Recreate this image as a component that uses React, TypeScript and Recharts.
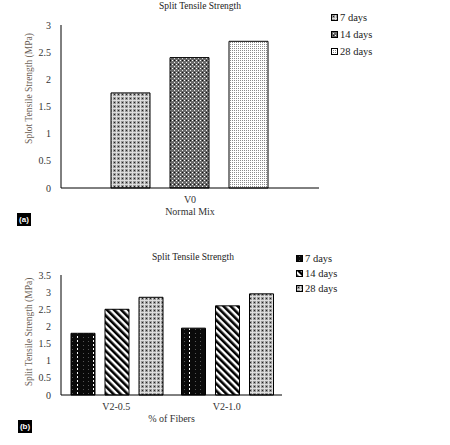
import React from "react"
import { Bar, BarChart, XAxis, YAxis, Label } from "recharts"

// (a) normal mix
const mixA = ["V0"]
const a7 = [1.75]
const a14 = [2.4]
const a28 = [2.7]
const ticksA = [0, 0.5, 1, 1.5, 2, 2.5, 3]

// (b) fibre mixes
const mixB = ["V2-0.5", "V2-1.0"]
const b7 = [1.8, 1.95]
const b14 = [2.5, 2.6]
const b28 = [2.85, 2.95]
const ticksB = [0, 0.5, 1, 1.5, 2, 2.5, 3, 3.5]

const dataA = mixA.map((m, i) => ({ mix: m, d7: a7[i], d14: a14[i], d28: a28[i] }))
const dataB = mixB.map((m, i) => ({ mix: m, d7: b7[i], d14: b14[i], d28: b28[i] }))

const font = "'Liberation Serif', 'Times New Roman', serif"
const tick = { fontSize: 10, fill: "#333", fontFamily: font }

function Patterns() {
  return (
    <svg width={0} height={0} style={{ position: "absolute" }}>
      <defs>
        <pattern id="grayGrid" width={4} height={4} patternUnits="userSpaceOnUse">
          <rect width={4} height={4} fill="#9a9a9a" />
          <rect width={4} height={1} fill="#dedede" />
          <rect width={1} height={4} fill="#dedede" />
          <rect x={2} y={2} width={1} height={1} fill="#222" />
        </pattern>
        <pattern id="darkGrid" width={4} height={4} patternUnits="userSpaceOnUse">
          <rect width={4} height={4} fill="#6a6a6a" />
          <rect x={0} y={0} width={1} height={1} fill="#fff" />
          <rect x={2} y={2} width={1} height={1} fill="#eee" />
          <rect x={2} y={0} width={1} height={1} fill="#111" />
        </pattern>
        <pattern id="lightDots" width={2} height={2} patternUnits="userSpaceOnUse">
          <rect width={2} height={2} fill="#fff" />
          <rect width={1} height={1} fill="#8a8a8a" />
        </pattern>
        <pattern id="blackDots" width={16} height={4} patternUnits="userSpaceOnUse">
          <rect width={16} height={4} fill="#0a0a0a" />
          <rect x={3} y={1} width={1} height={1} fill="#555" />
          <rect x={8} y={1} width={1} height={1} fill="#555" />
          <rect x={13} y={0} width={1} height={2} fill="#fff" />
        </pattern>
        <pattern
          id="stripes"
          width={5}
          height={5}
          patternUnits="userSpaceOnUse"
          patternTransform="rotate(-45)"
        >
          <rect width={5} height={5} fill="#fff" />
          <rect width={2.6} height={5} fill="#000" />
        </pattern>
      </defs>
    </svg>
  )
}

function SideLabel(text: string, shift: number) {
  return (props: any) => {
    const { x, y, height } = props.viewBox
    const cx = x + 9
    const cy = y + height / 2 + shift
    return (
      <text
        x={cx}
        y={cy}
        transform={`rotate(-90 ${cx} ${cy})`}
        textAnchor="middle"
        dominantBaseline="middle"
        fontSize={9.5}
        fill="#6b5e55"
        fontFamily={font}
      >
        {text}
      </text>
    )
  }
}

function LegendBox({ items, left, top, gap }: any) {
  return (
    <div style={{ position: "absolute", left, top, fontSize: 10.5, fontFamily: font, color: "#222" }}>
      {items.map((it: any, i: number) => (
        <div key={it.name} style={{ position: "absolute", top: i * gap, left: 0, whiteSpace: "nowrap", display: "flex", alignItems: "center" }}>
          <svg width={7} height={7} style={{ marginRight: 2 }}>
            <rect x={0.5} y={0.5} width={6} height={6} fill={`url(#${it.fill})`} stroke="#000" />
          </svg>
          <span>{it.name}</span>
        </div>
      ))}
    </div>
  )
}

function Tag({ text, left, top }: any) {
  return (
    <div
      style={{
        position: "absolute",
        left,
        top,
        width: 14,
        height: 13,
        background: "#000",
        color: "#fff",
        fontSize: 8,
        fontFamily: "Arial, sans-serif",
        fontWeight: "bold",
        textAlign: "center",
        lineHeight: "13px",
      }}
    >
      {text}
    </div>
  )
}

function Title({ text, left, top }: any) {
  return (
    <div style={{ position: "absolute", left, top, width: 0, fontSize: 9.5, fontFamily: font, color: "#222", whiteSpace: "nowrap" }}>
      <div style={{ transform: "translateX(-50%)", display: "inline-block" }}>{text}</div>
    </div>
  )
}

export default function App() {
  return (
    <div style={{ position: "absolute", left: 0, top: 0, width: 450, height: 445, background: "#fff", fontFamily: font }}>
      <Patterns />

      <Title text="Split Tensile Strength" left={200} top={1} />
      <div style={{ position: "absolute", left: 0, top: 0 }}>
        <BarChart
          width={330}
          height={225}
          data={dataA}
          margin={{ top: 25, right: 11, left: 21, bottom: 7 }}
          barCategoryGap={50}
          barGap={20}
        >
          <XAxis dataKey="mix" tickLine={false} axisLine={{ stroke: "#000" }} tick={tick} height={30}>
            <Label value="Normal Mix" position="insideBottom" offset={3} fontSize={10} fill="#333" fontFamily={font} />
          </XAxis>
          <YAxis
            domain={[0, 3]}
            ticks={ticksA}
            width={40}
            tickLine={false}
            axisLine={{ stroke: "#000" }}
            tick={tick}
            tickMargin={4}
          >
            <Label content={SideLabel("Splot Tensile Strength (MPa)", -18)} />
          </YAxis>
          <Bar dataKey="d7" fill="url(#grayGrid)" stroke="#000" strokeWidth={1} isAnimationActive={false} />
          <Bar dataKey="d14" fill="url(#darkGrid)" stroke="#000" strokeWidth={1} isAnimationActive={false} />
          <Bar dataKey="d28" fill="url(#lightDots)" stroke="#000" strokeWidth={1} isAnimationActive={false} />
        </BarChart>
      </div>
      <LegendBox
        left={331}
        top={12}
        gap={17}
        items={[
          { name: "7 days", fill: "grayGrid" },
          { name: "14 days", fill: "darkGrid" },
          { name: "28 days", fill: "lightDots" },
        ]}
      />
      <Tag text="(a)" left={17} top={213} />

      <Title text="Split Tensile Strength" left={193} top={252} />
      <div style={{ position: "absolute", left: 0, top: 240 }}>
        <BarChart
          width={300}
          height={200}
          data={dataB}
          margin={{ top: 35, right: 18, left: 21, bottom: 15 }}
          barCategoryGap={10}
          barGap={10}
        >
          <XAxis dataKey="mix" tickLine={false} axisLine={{ stroke: "#000" }} tick={tick} height={30}>
            <Label value="% of Fibers" position="insideBottom" offset={3} fontSize={10} fill="#333" fontFamily={font} />
          </XAxis>
          <YAxis
            domain={[0, 3.5]}
            ticks={ticksB}
            width={40}
            tickLine={false}
            axisLine={{ stroke: "#000" }}
            tick={tick}
            tickMargin={4}
          >
            <Label content={SideLabel("Split Tensile Strength (MPa)", -3)} />
          </YAxis>
          <Bar dataKey="d7" fill="url(#blackDots)" stroke="#000" strokeWidth={1} isAnimationActive={false} />
          <Bar dataKey="d14" fill="url(#stripes)" stroke="#000" strokeWidth={1} isAnimationActive={false} />
          <Bar dataKey="d28" fill="url(#grayGrid)" stroke="#000" strokeWidth={1} isAnimationActive={false} />
        </BarChart>
      </div>
      <LegendBox
        left={296}
        top={253}
        gap={15}
        items={[
          { name: "7 days", fill: "blackDots" },
          { name: "14 days", fill: "stripes" },
          { name: "28 days", fill: "grayGrid" },
        ]}
      />
      <Tag text="(b)" left={18} top={420} />
    </div>
  )
}
